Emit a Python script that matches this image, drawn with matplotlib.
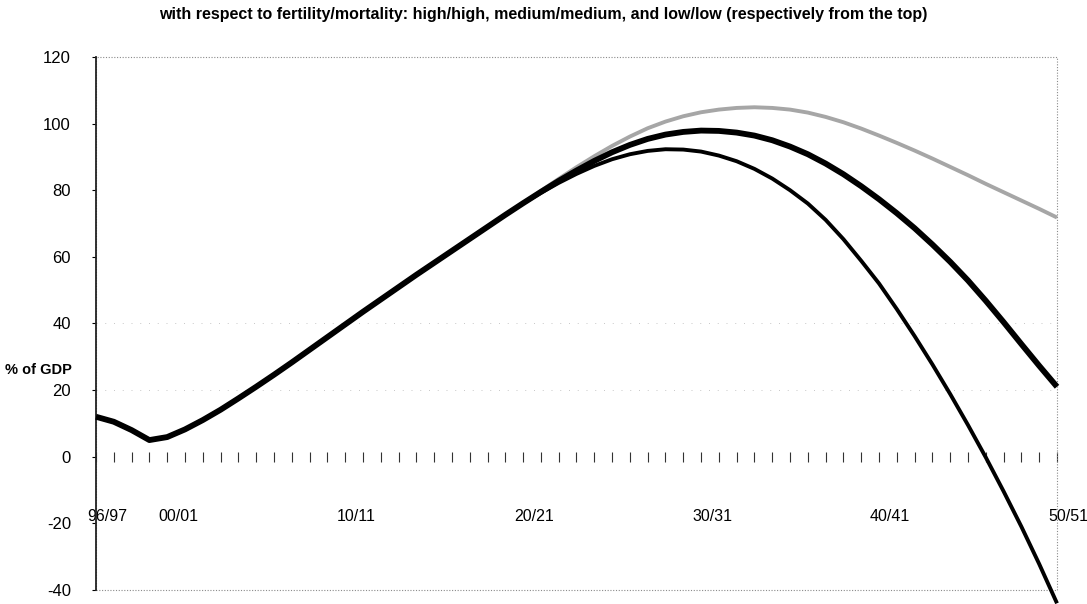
import matplotlib
matplotlib.use("Agg")
import matplotlib.pyplot as plt
from matplotlib.patches import Rectangle
from matplotlib.transforms import ScaledTranslation

plt.rcParams["font.family"] = ["Liberation Sans", "DejaVu Sans"]
plt.rcParams["axes.unicode_minus"] = False

# ── Dados (% do PIB) ──────────────────────────────────────────────────────────
START_YEAR = 1996
years = [f"{y % 100:02d}/{(y + 1) % 100:02d}" for y in range(START_YEAR, 2051)]
shown_labels = ["96/97", "00/01", "10/11", "20/21", "30/31", "40/41", "50/51"]

# trecho comum às três projeções (96/97 .. 20/21)
common = [12.0, 10.5, 8.0, 5.0, 5.9, 8.2, 11.0, 14.1, 17.5, 21.0,
          24.6, 28.3, 32.1, 35.9, 39.7, 43.5, 47.2, 50.9, 54.6, 58.2,
          61.8, 65.4, 69.0, 72.6, 76.1]

high_tail = [79.8, 83.4, 86.9, 90.2, 93.3, 96.1, 98.6, 100.6, 102.2, 103.4,
             104.2, 104.7, 104.9, 104.7, 104.2, 103.3, 102.0, 100.4, 98.5, 96.4,
             94.2, 91.9, 89.5, 87.0, 84.5, 81.9, 79.4, 76.9, 74.4, 71.8]
medium_tail = [79.5, 82.8, 85.9, 88.8, 91.4, 93.6, 95.4, 96.7, 97.5, 97.9,
               97.8, 97.3, 96.4, 95.0, 93.1, 90.8, 88.0, 84.8, 81.2, 77.3,
               73.1, 68.6, 63.7, 58.5, 52.9, 46.8, 40.4, 33.8, 27.3, 21.0]
low_tail = [79.2, 82.2, 84.9, 87.3, 89.3, 90.8, 91.8, 92.3, 92.2, 91.6,
            90.4, 88.7, 86.4, 83.5, 80.0, 76.0, 71.1, 65.3, 58.8, 52.0,
            44.3, 36.2, 27.7, 18.8, 9.5, -0.2, -10.4, -21.0, -32.2, -44.0]

high = common + high_tail
medium = common + medium_tail
low = common + low_tail

TITLE = ("with respect to fertility/mortality: high/high, medium/medium, "
         "and low/low (respectively from the top)")


def run():
    fig = plt.figure(figsize=(10.87, 6.04), dpi=100)
    fig.patch.set_facecolor("white")
    ax = fig.add_axes([0.0883, 0.0232, 0.8841, 0.8825])

    x = list(range(len(years)))

    # ── Séries ────────────────────────────────────────────────────────────────
    ax.plot(x, high, color="#a6a6a6", linewidth=2.8, clip_on=False,
            solid_capstyle="butt", zorder=3)
    ax.plot(x, medium, color="black", linewidth=4.2, clip_on=False,
            solid_capstyle="butt", zorder=4)
    ax.plot(x, low, color="black", linewidth=2.8, clip_on=False,
            solid_capstyle="butt", zorder=4)

    # ── Eixos ─────────────────────────────────────────────────────────────────
    ax.set_xlim(0, len(years) - 1)
    ax.set_ylim(-40, 120)
    ax.set_yticks(range(-40, 121, 20))
    ax.tick_params(axis="y", length=3, width=0.8, direction="out",
                   labelsize=12, pad=15)

    ax.spines["top"].set_visible(False)
    ax.spines["right"].set_visible(False)
    ax.spines["left"].set_linewidth(1.3)
    ax.spines["left"].set_color("#222222")
    ax.spines["bottom"].set_position(("data", 0))
    ax.spines["bottom"].set_linewidth(0)

    ax.set_xticks([years.index(lb) for lb in shown_labels])
    ax.set_xticklabels(shown_labels)
    ax.set_xticks(x, minor=True)
    ax.tick_params(axis="x", which="both", length=7, width=0.8,
                   direction="inout", color="#333333")
    ax.tick_params(axis="x", which="major", labelsize=11.5, pad=34)
    shift = ScaledTranslation(8 / 72, 0, fig.dpi_scale_trans)
    for lab in ax.get_xticklabels():
        lab.set_transform(lab.get_transform() + shift)

    # grade apagada (só restos visíveis no original)
    for yv in (20, 40):
        ax.axhline(yv, color="#c8c8c8", linewidth=0.7,
                   linestyle=(0, (1, 8)), zorder=1)

    # moldura pontilhada da área de plotagem
    ax.add_patch(Rectangle((0, 0), 1, 1, transform=ax.transAxes, fill=False,
                           edgecolor="#8a8a8a", linewidth=0.8,
                           linestyle=(0, (1, 1.5)), clip_on=False, zorder=2))

    fig.text(72 / 1087, 1 - 370 / 604, "% of GDP", ha="right", va="center",
             fontsize=10.5, fontweight="bold")
    fig.text(0.5, 1 - 14 / 604, TITLE, ha="center", va="center",
             fontsize=11.5, fontweight="bold")

    fig.savefig("out.png", dpi=100)
    plt.close(fig)


if __name__ == "__main__":
    run()
